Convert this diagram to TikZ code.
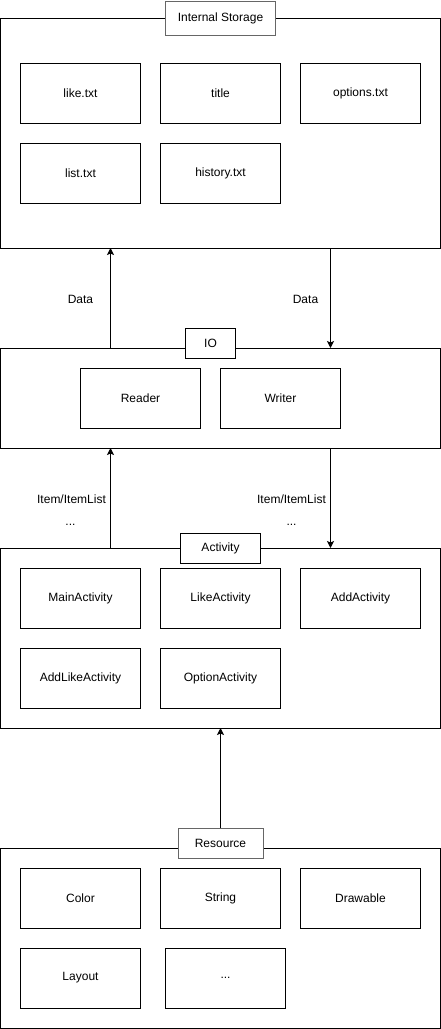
\documentclass[tikz,border=0pt]{standalone}
\usepackage{fontspec}
\setmainfont{Liberation Sans}
\usetikzlibrary{arrows.meta,positioning}

\begin{document}
\begin{tikzpicture}[
    x=1pt, y=-1pt,
    node distance=20pt and 20pt,
    every node/.style={font=\fontsize{12}{14}\selectfont},
    group/.style={rectangle, draw=black, line width=1pt, minimum width=440pt, inner sep=0pt, outer sep=0pt},
    item/.style={rectangle, draw=black, line width=1pt, minimum width=120pt, minimum height=60pt, inner sep=0pt, outer sep=0pt},
    caption/.style={rectangle, draw=black, fill=white, line width=1pt, minimum height=30pt, inner sep=0pt, outer sep=0pt},
    arrow/.style={-{Stealth[length=7pt,width=7pt,inset=1.5pt]}, line width=1pt, draw=black}
]
    \useasboundingbox (-0.5,0) rectangle (440.5,1029);

    % lanes for the vertical connectors
    \coordinate (leftlane) at (110,0);
    \coordinate (rightlane) at (330,0);

    % Internal Storage
    \node [group, minimum height=230pt] (storage) at (220,133) {};
    \node [item] (like) at (80,93) {like.txt};
    \node [item, right=of like] (title) {title};
    \node [item, right=of title] (options) {options.txt};
    \node [item, below=of like] (list) {list.txt};
    \node [item, right=of list] (history) {history.txt};
    \node [caption, draw=black!60, minimum width=110pt, minimum height=34pt] (storagetitle) at (storage.north) {Internal Storage};

    % IO
    \node [group, minimum height=100pt] (io) at (220,398) {};
    \node [item] (reader) at (140,398) {Reader};
    \node [item, right=of reader] (writer) {Writer};
    \node [caption, minimum width=50pt] (iotitle) at ([xshift=-10pt,yshift=5pt]io.north) {IO};

    % Activity
    \node [group, minimum height=180pt] (activity) at (220,638) {};
    \node [item] (mainact) at (80,598) {MainActivity};
    \node [item, right=of mainact] (likeact) {LikeActivity};
    \node [item, right=of likeact] (addact) {AddActivity};
    \node [item, below=of mainact] (addlikeact) {AddLikeActivity};
    \node [item, right=of addlikeact] (optionact) {OptionActivity};
    \node [caption, minimum width=80pt] (activitytitle) at (activity.north) {Activity};

    % Resource
    \node [group, minimum height=180pt] (resource) at (220,938) {};
    \node [item] (color) at (80,898) {Color};
    \node [item, right=of color] (string) {String};
    \node [item, right=of string] (drawable) {Drawable};
    \node [item, below=of color] (layout) {Layout};
    \node [item, right=25pt of layout] (more) {...};
    \node [caption, draw=black!60, minimum width=85pt] (resourcetitle) at ([yshift=5pt]resource.north) {Resource};

    % connectors
    \draw [arrow] (io.north -| leftlane) -- (storage.south -| leftlane);
    \draw [arrow] (storage.south -| rightlane) -- (io.north -| rightlane);
    \draw [arrow] (activity.north -| leftlane) -- (io.south -| leftlane);
    \draw [arrow] (io.south -| rightlane) -- (activity.north -| rightlane);
    \draw [arrow] (resourcetitle) -- (activity.south);

    % labels
    \node (dataup) at (80,299) {Data};
    \node (datadown) at (305,299) {Data};
    \node (itemup) at (71,499) {Item/ItemList};
    \node (moreup) at (70,525) {...};
    \node (itemdown) at (291,499) {Item/ItemList};
    \node (moredown) at (291,525) {...};
\end{tikzpicture}
\end{document}
